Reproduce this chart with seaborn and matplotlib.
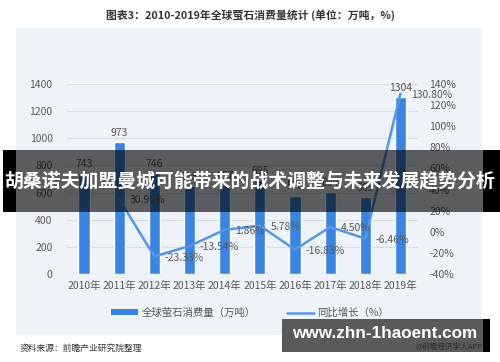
import numpy as np
import pandas as pd
import matplotlib
matplotlib.use("Agg")
import matplotlib.pyplot as plt
from matplotlib.patches import Rectangle, Patch
from matplotlib.lines import Line2D
import seaborn as sns

# ---- data ----
years = ["2010年", "2011年", "2012年", "2013年", "2014年", "2015年", "2016年", "2017年", "2018年", "2019年"]
consumption = [743, 973, 746, 645, 657, 695, 578, 604, 565, 1304]
growth = [np.nan, 30.96, -23.33, -13.54, 1.86, 5.78, -16.83, 4.50, -6.46, 130.80]
left_ticks = [0, 200, 400, 600, 800, 1000, 1200, 1400]
right_ticks = [-40, -20, 0, 20, 40, 60, 80, 100, 120, 140]
title = "图表3：2010-2019年全球萤石消费量统计 (单位：万吨，%)"
bar_name = "全球萤石消费量（万吨）"
line_name = "同比增长（%）"
source = "资料来源：前瞻产业研究院整理"
banner = "胡桑诺夫加盟曼城可能带来的战术调整与未来发展趋势分析"
site = "www.zhn-1haoent.com"
app = "@前瞻经济学人APP"

sns.set_style("white")
plt.rcParams['font.family'] = ['Noto Sans CJK SC', 'DejaVu Sans']

W, H = 500, 362
fig = plt.figure(figsize=(5, 3.62), dpi=100)
fx = lambda x: x / W
fy = lambda y: 1 - y / H

bar_color = "#3A84E3"
line_color = "#5596E6"
txt = "#595959"

def rect(x0, y0, x1, y1, **kw):
    fig.add_artist(Rectangle((fx(x0), fy(y1)), fx(x1) - fx(x0), fy(y0) - fy(y1),
                             transform=fig.transFigure, edgecolor="none", **kw))

# panel background
rect(16, 28, 482, 335, facecolor="#EEF2F9", zorder=-5)

ax = fig.add_axes([fx(66.5), fy(274), fx(418) - fx(66.5), fy(84) - fy(274)])
ax.set_facecolor("none")
df = pd.DataFrame({"year": years, "consumption": consumption, "growth": growth})
sns.barplot(data=df, x="year", y="consumption", color=bar_color, width=0.32, ax=ax,
            saturation=1, zorder=2)
ax.set_ylim(0, 1400)
ax.set_yticks(left_ticks)
ax.grid(axis="y", color="#D9DCE3", lw=0.8, zorder=0)
ax.grid(axis="x", visible=False)
ax.set_axisbelow(True)
ax.bar_label(ax.containers[0], fmt="%d", padding=3, fontsize=7.5, color=txt)
ax.set_xlabel("")
ax.set_ylabel("")
ax.tick_params(axis="both", length=0, labelsize=7.5, labelcolor=txt)
ax.tick_params(axis="y", pad=10)
ax.tick_params(axis="x", pad=5)
for s in ax.spines.values():
    s.set_visible(False)

ax2 = ax.twinx()
sns.lineplot(x=np.arange(len(years)), y=growth, ax=ax2, color=line_color, lw=1.8)
ax2.set_ylim(-40, 140)
ax2.set_yticks(right_ticks)
ax2.set_yticklabels([f"{t}%" for t in right_ticks])
ax2.tick_params(axis="y", length=0, labelsize=7.5, labelcolor=txt, pad=8)
ax2.set_ylabel("")
for s in ax2.spines.values():
    s.set_visible(False)
for i, v in enumerate(growth):
    if not np.isnan(v):
        ax2.annotate(f"{v:.2f}%", (i, v), xytext=(7.5, -1), textcoords="offset points",
                     va="center", ha="left", fontsize=7.5, color=txt)
ax.set_xlim(-0.5, len(years) - 0.5)
ax.set_xticks(range(len(years)))
ax.set_xticklabels(years)

# legend
handles = [Patch(facecolor=bar_color, edgecolor="none"),
           Line2D([0], [0], color=line_color, lw=1.8)]
fig.legend(handles, [bar_name, line_name], loc="center", bbox_to_anchor=(0.5, fy(313)),
           ncol=2, frameon=False, fontsize=7.5, handlelength=2.6, handleheight=0.5,
           columnspacing=3.0, handletextpad=0.3, labelcolor=txt)

# title & source
fig.text(0.5, fy(15), title, ha="center", va="center", fontsize=7.8, fontweight="bold", color="#333333")
fig.text(fx(20), fy(348), source, ha="left", va="center", fontsize=6.3, color="#333333")

# banner overlay
rect(3, 150, 16, 212, facecolor="black", zorder=20)
rect(483, 150, 500, 212, facecolor="black", zorder=20)
rect(16, 150, 483, 212, facecolor="black", alpha=0.62, zorder=21)
fig.text(fx(250), fy(181), banner, ha="center", va="center", fontsize=13.6, fontweight="bold",
         color="white", zorder=25)

# site box
rect(282, 319, 483, 352, facecolor="#5A5A5A", zorder=20)
rect(483, 319, 490, 352, facecolor="black", zorder=20)
fig.text(fx(384.5), fy(333), site, ha="center", va="center", fontsize=12.3, fontweight="bold",
         color="white", family=["Liberation Sans"], zorder=25)
fig.text(fx(483), fy(347), app, ha="right", va="center", fontsize=5.5, color="#2a2a2a", zorder=25)

fig.savefig("out.png", dpi=100)
